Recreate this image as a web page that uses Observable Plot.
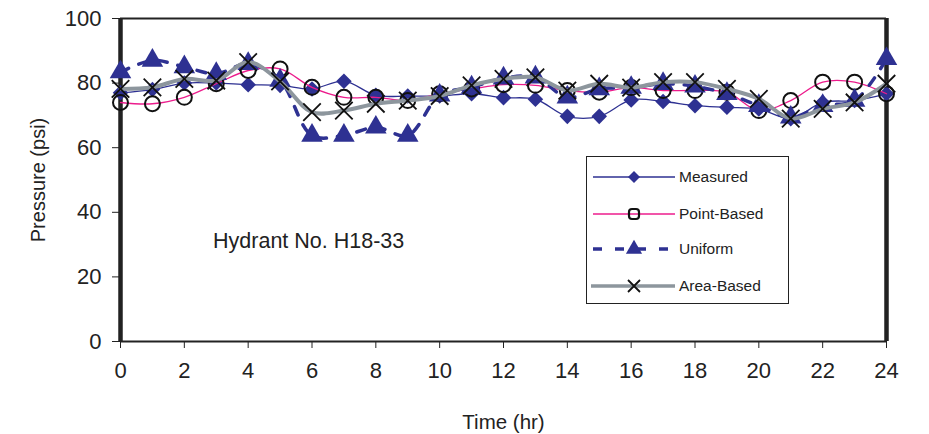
<!DOCTYPE html>
<html>
<head>
<meta charset="utf-8">
<script src="https://cdn.jsdelivr.net/npm/d3@7"></script>
<script src="https://cdn.jsdelivr.net/npm/@observablehq/plot@0.6"></script>
<style>
  html, body { margin: 0; padding: 0; background: #fff; }
  #wrap { position: relative; width: 929px; height: 434px; font-family: "Liberation Sans", Arial, Helvetica, sans-serif; }
  #legend { position: absolute; left: 586px; top: 156px; width: 203px; height: 148px; border: 1.5px solid #222; background: #fff; box-sizing: border-box; }
  #legend .row { position: absolute; left: 0; height: 24px; display: flex; align-items: center; }
  #legend .row span { font-size: 15.5px; color: #222; margin-left: 4px; }
  .axislabel text { font-family: "Open Sans", "Noto Sans", sans-serif; }
</style>
</head>
<body>
<div id="wrap"></div>
<script>
const hours = [0,1,2,3,4,5,6,7,8,9,10,11,12,13,14,15,16,17,18,19,20,21,22,23,24];
const measured   = [77,78,80,80,79.5,79.3,78.2,80.6,76.2,76,76,76.7,75.5,75,69.7,69.7,74.8,74.3,73,72.5,72,69,74,74.6,76.7];
const pointBased = [74,73.6,75.6,79.8,83.9,84.4,78.7,75.6,75.6,74.6,76.7,78.2,79.5,79.3,77.7,77.2,78.6,77.7,77.7,77.2,71.5,74.6,80.3,80.3,76.7];
const uniform    = [83.4,87,85,82.9,86,80.8,63.8,63.8,66.3,63.8,76.2,78.7,81.5,81.8,75.6,78.2,78.6,79.8,79,76.7,73,69.4,73,74.6,87.5];
const areaBased  = [78.2,78.7,81.3,80.8,86.5,80.5,71,71.5,73.6,74.6,76,79.3,81.3,81.8,77.7,79.8,78.6,80.3,80.3,78.2,75.1,69,72,74,79.8];
const seriesNames = ["Measured","Point-Based","Uniform","Area-Based"];
const xTicks = [0,2,4,6,8,10,12,14,16,18,20,22,24];
const yTicks = [0,20,40,60,80,100];
const annotation = {text: "Hydrant No. H18-33", x: 2.9, y: 31};

const NAVY = "#2e3192", PINK = "#ec1c8c", GRAY = "#8d969d";
const rows = (vals) => hours.map((h,i) => ({h, v: vals[i]}));
const M = rows(measured), P = rows(pointBased), U = rows(uniform), A = rows(areaBased);

const chart = Plot.plot({
  width: 929, height: 434,
  marginLeft: 120, marginRight: 43, marginTop: 18, marginBottom: 93,
  style: {fontFamily: "'Liberation Sans', Arial, Helvetica, sans-serif", fontSize: "20px", color: "#222", background: "#fff"},
  x: {domain: [0,24]},
  y: {domain: [0,100]},
  marks: [
    Plot.axisY({ticks: yTicks, tickSize: 8, tickPadding: 11, fontSize: 22, label: null, stroke: "#222"}),
    Plot.axisX({ticks: xTicks, tickSize: 7, tickPadding: 14, fontSize: 22, label: null, stroke: "#222"}),
    Plot.axisY({ticks: [], tickSize: 0, label: "Pressure (psi)", labelAnchor: "center", labelArrow: "none", labelOffset: 90, fontSize: 20, className: "axislabel"}),
    Plot.axisX({ticks: [], tickSize: 0, label: "Time (hr)", labelAnchor: "center", labelArrow: "none", labelOffset: 87, fontSize: 20.5, className: "axislabel"}),
    Plot.ruleY([0], {stroke: "#222", strokeWidth: 2}),
    Plot.ruleY([100], {stroke: "#222", strokeWidth: 2}),
    Plot.ruleX([0, 24], {stroke: "#222", strokeWidth: 4.5}),
    // Measured
    Plot.line(M, {x: "h", y: "v", stroke: NAVY, strokeWidth: 1.3, curve: "catmull-rom"}),
    Plot.dot(M, {x: "h", y: "v", symbol: "diamond2", fill: NAVY, stroke: "none", r: 7}),
    // Point-Based
    Plot.line(P, {x: "h", y: "v", stroke: PINK, strokeWidth: 1.3, curve: "catmull-rom"}),
    Plot.dot(P, {x: "h", y: "v", symbol: "circle", fill: "none", stroke: "#111", strokeWidth: 2, r: 7.5}),
    // Uniform
    Plot.line(U, {x: "h", y: "v", stroke: NAVY, strokeWidth: 3.5, strokeDasharray: "9,11", curve: "catmull-rom"}),
    Plot.dot(U, {x: "h", y: "v", symbol: "triangle", fill: NAVY, r: 8}),
    // Area-Based
    Plot.line(A, {x: "h", y: "v", stroke: GRAY, strokeWidth: 4, curve: "catmull-rom"}),
    Plot.dot(A, {x: "h", y: "v", symbol: "times", stroke: "#111", strokeWidth: 1.8, r: 8}),
    Plot.text([annotation], {x: "x", y: "y", text: "text", textAnchor: "start", fontSize: 21.5, fill: "#222"})
  ]
});
document.getElementById("wrap").appendChild(chart);

// Legend
const legend = document.createElement("div");
legend.id = "legend";
const swatch = (i) => {
  const w = 82, h = 24, cx = 47, cy = 12;
  let s = `<svg width="${w+6}" height="${h}" style="display:block">`;
  if (i === 0) s += `<line x1="6" x2="${w+6}" y1="${cy}" y2="${cy}" stroke="${NAVY}" stroke-width="1.3"/><path d="M${cx},${cy-6}L${cx+6},${cy}L${cx},${cy+6}L${cx-6},${cy}Z" fill="${NAVY}"/>`;
  if (i === 1) s += `<line x1="6" x2="${w+6}" y1="${cy}" y2="${cy}" stroke="${PINK}" stroke-width="1.3"/><rect x="${cx-5}" y="${cy-5}" width="10" height="10" rx="3" fill="none" stroke="#111" stroke-width="2.2"/>`;
  if (i === 2) s += `<line x1="6" x2="${w+6}" y1="${cy}" y2="${cy}" stroke="${NAVY}" stroke-width="3.5" stroke-dasharray="9,13"/><path d="${d3.symbol(d3.symbolTriangle, Math.PI*6*6)()}" transform="translate(${cx},${cy})" fill="${NAVY}"/>`;
  if (i === 3) s += `<line x1="4" x2="${w+6}" y1="${cy}" y2="${cy}" stroke="${GRAY}" stroke-width="3.5"/><path d="M${cx-6},${cy-6}L${cx+6},${cy+6}M${cx+6},${cy-6}L${cx-6},${cy+6}" stroke="#111" stroke-width="1.8"/>`;
  return s + `</svg>`;
};
const tops = [8, 45, 80, 117];
seriesNames.forEach((name, i) => {
  const r = document.createElement("div");
  r.className = "row";
  r.style.top = tops[i] + "px";
  r.innerHTML = swatch(i) + `<span>${name}</span>`;
  legend.appendChild(r);
});
document.getElementById("wrap").appendChild(legend);
</script>
</body>
</html>
